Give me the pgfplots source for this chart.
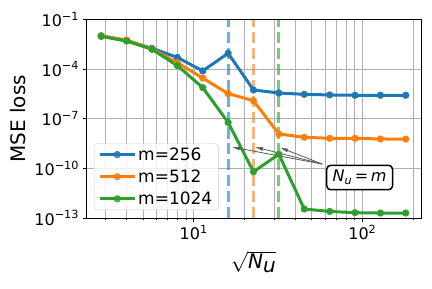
\documentclass[border=0pt]{standalone}
\usepackage{fontspec}
\setmainfont{DejaVu Sans}
\usepackage{pgfplots}
\pgfplotsset{compat=1.18}
\usetikzlibrary{arrows.meta}
\definecolor{c0}{HTML}{1F77B4}
\definecolor{c1}{HTML}{FF7F0E}
\definecolor{c2}{HTML}{2CA02C}
\definecolor{gridc}{HTML}{B0B0B0}
\begin{document}
\begin{tikzpicture}
\begin{axis}[
  scale only axis, width=335pt, height=198.5pt,
  xmode=log, ymode=log,
  xmin=2.2974, xmax=222.86, ymin=1e-13, ymax=1e-1,
  xtick={10,100}, xticklabels={10\textsuperscript{1},10\textsuperscript{2}},
  minor xtick={3,4,5,6,7,8,9,20,30,40,50,60,70,80,90,200},
  ytick={1e-13,1e-10,1e-7,1e-4,1e-1},
  yticklabels={10\textsuperscript{−13},10\textsuperscript{−10},10\textsuperscript{−7},10\textsuperscript{−4},10\textsuperscript{−1}},
  tick pos=left, tick align=outside,
  major tick length=3.5pt, minor tick length=2pt,
  every tick/.style={black, line width=0.8pt},
  xmajorgrids=true, xminorgrids=true, ymajorgrids=true,
  major grid style={gridc, line width=0.8pt},
  minor grid style={gridc, line width=0.8pt},
  axis line style={black, line width=0.8pt},
  tick label style={font=\fontsize{16}{19}\selectfont},
  xlabel={$\sqrt{\textit{N}_{\textit{u}}}$},
  ylabel={MSE loss},
  every axis x label/.style={at={([yshift=-44pt]axis description cs:0.5,0)}, anchor=center, font=\fontsize{20}{24}\selectfont},
  every axis y label/.style={at={([xshift=-68pt]axis description cs:0,0.5)}, anchor=center, rotate=90, font=\fontsize{20}{24}\selectfont},
  legend style={at={(0.024,0.04)}, anchor=south west, draw=black!20, rounded corners=3pt,
    fill=white, fill opacity=0.8, text opacity=1, font=\fontsize{17}{19}\selectfont,
    inner xsep=4pt, inner ysep=2pt, row sep=4pt},
  legend cell align=left,
  legend image code/.code={\draw[mark repeat=2,mark phase=2] plot coordinates {(0pt,0pt)(17.5pt,0pt)(35pt,0pt)};},
  clip=true,
]
\addplot[c0, opacity=0.6, line width=3pt, dash pattern=on 11.1pt off 4.8pt, forget plot] coordinates {(16,1e-13)(16,1e-1)};
\addplot[c1, opacity=0.6, line width=3pt, dash pattern=on 11.1pt off 4.8pt, forget plot] coordinates {(22.6274,1e-13)(22.6274,1e-1)};
\addplot[c2, opacity=0.6, line width=3pt, dash pattern=on 11.1pt off 4.8pt, forget plot] coordinates {(32,1e-13)(32,1e-1)};

\addplot[c0, line width=3pt, mark=*, mark size=3.3pt, mark options={solid, line width=0.5pt}] coordinates {
(2.8284,1.05e-2)(4,5.25e-3)(5.6569,1.82e-3)(8,5.1e-4)(11.3137,7.8e-5)(16,9.1e-4)(22.6274,5.5e-6)(32,3.6e-6)(45.2548,3.0e-6)(64,2.75e-6)(90.5097,2.63e-6)(128,2.63e-6)(181.0193,2.63e-6)};
\addlegendentry{m=256}
\addplot[c1, line width=3pt, mark=*, mark size=3.3pt, mark options={solid, line width=0.5pt}] coordinates {
(2.8284,1.0e-2)(4,5.75e-3)(5.6569,1.66e-3)(8,2.45e-4)(11.3137,2.9e-5)(16,3.3e-6)(22.6274,1.23e-6)(32,1.2e-8)(45.2548,7.6e-9)(64,6.6e-9)(90.5097,6.6e-9)(128,6.0e-9)(181.0193,5.9e-9)};
\addlegendentry{m=512}
\addplot[c2, line width=3pt, mark=*, mark size=3.3pt, mark options={solid, line width=0.5pt}] coordinates {
(2.8284,9.5e-3)(4,5.0e-3)(5.6569,1.58e-3)(8,1.62e-4)(11.3137,7.6e-6)(16,6.0e-8)(22.6274,6.3e-11)(32,7.1e-10)(45.2548,3.5e-13)(64,2.5e-13)(90.5097,2.1e-13)(128,2.0e-13)(181.0193,2.0e-13)};
\addlegendentry{m=1024}

\draw[black!65, line width=0.8pt, -{Latex[length=8pt,width=4pt]}] (axis cs:57.9,1.83e-10) -- (axis cs:16.85,1.95e-9);
\draw[black!65, line width=0.8pt, -{Latex[length=8pt,width=4pt]}] (axis cs:57.9,1.83e-10) -- (axis cs:23.1,1.95e-9);
\draw[black!65, line width=0.8pt, -{Latex[length=8pt,width=4pt]}] (axis cs:57.9,1.83e-10) -- (axis cs:32.6,1.8e-9);
\node[draw=black, line width=1.5pt, rounded corners=4pt, fill=white, inner xsep=6pt, inner ysep=5pt, font=\fontsize{16}{18}\selectfont] at (axis cs:96.4,2.8e-11) {\textit{N}\textsubscript{\textit{u}}\,=\,\textit{m}};
\end{axis}
\pgfresetboundingbox
\useasboundingbox ([shift={(-86pt,-70pt)}]current axis.south west) rectangle ([shift={(11pt,19.5pt)}]current axis.north east);
\end{tikzpicture}
\end{document}
